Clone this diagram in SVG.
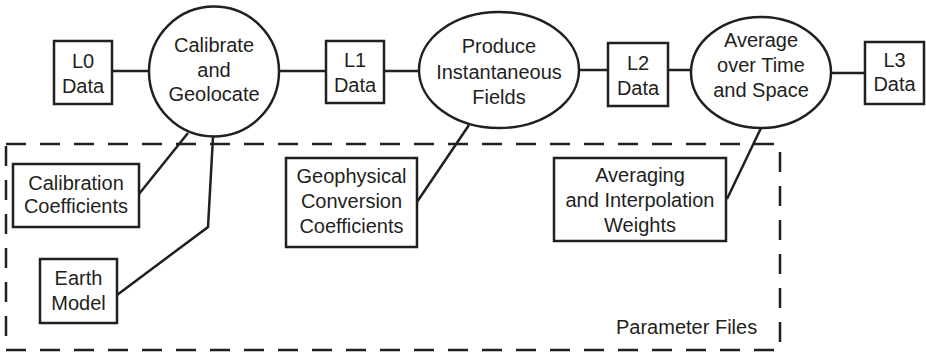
<svg xmlns="http://www.w3.org/2000/svg" width="926" height="353" viewBox="0 0 926 353">
  <style>
    .shape { fill: #ffffff; stroke: #231f20; stroke-width: 2.5; }
    .link { fill: none; stroke: #231f20; stroke-width: 2.5; stroke-linejoin: miter; }
    .frame { fill: none; stroke: #231f20; stroke-width: 2.5; stroke-dasharray: 20 14; }
    text { font-family: "Liberation Sans", Arial, sans-serif; font-size: 20px; fill: #231f20; text-anchor: middle; }
    .left { text-anchor: start; }
  </style>
  <rect width="926" height="353" fill="#ffffff"/>

  <!-- parameter files enclosure -->
  <g id="parameter-files">
    <rect class="frame" x="6" y="144" width="774" height="206"/>
    <text class="left" x="616" y="334">Parameter Files</text>
  </g>

  <!-- connectors -->
  <g id="connectors">
    <line class="link" x1="112" y1="71" x2="149" y2="71"/>
    <line class="link" x1="279" y1="71" x2="326" y2="71"/>
    <line class="link" x1="384" y1="71" x2="419" y2="71"/>
    <line class="link" x1="579" y1="70" x2="608" y2="70"/>
    <line class="link" x1="668" y1="70" x2="691" y2="70"/>
    <line class="link" x1="831" y1="73" x2="865" y2="73"/>
    <line class="link" x1="188" y1="133" x2="139" y2="194"/>
    <polyline class="link" points="213,137 208,227 117,295"/>
    <line class="link" x1="469" y1="125" x2="417" y2="202"/>
    <line class="link" x1="761" y1="128" x2="727" y2="199"/>
  </g>

  <g id="l0-data">
    <rect class="shape" x="54" y="41" width="58" height="63"/>
    <text x="83" y="68">L0</text>
    <text x="83" y="93">Data</text>
  </g>

  <g id="calibrate-geolocate">
    <circle class="shape" cx="214" cy="71.5" r="65"/>
    <text x="214" y="52">Calibrate</text>
    <text x="214" y="77">and</text>
    <text x="214" y="101">Geolocate</text>
  </g>

  <g id="l1-data">
    <rect class="shape" x="326" y="41" width="58" height="62"/>
    <text x="355" y="67">L1</text>
    <text x="355" y="92">Data</text>
  </g>

  <g id="produce-fields">
    <ellipse class="shape" cx="499" cy="70" rx="80" ry="58"/>
    <text x="499" y="53">Produce</text>
    <text x="499" y="79">Instantaneous</text>
    <text x="499" y="104">Fields</text>
  </g>

  <g id="l2-data">
    <rect class="shape" x="608" y="43" width="60" height="63"/>
    <text x="638" y="70">L2</text>
    <text x="638" y="95">Data</text>
  </g>

  <g id="average-time-space">
    <ellipse class="shape" cx="761" cy="72.5" rx="70" ry="55.5"/>
    <text x="761" y="47">Average</text>
    <text x="761" y="72">over Time</text>
    <text x="761" y="97">and Space</text>
  </g>

  <g id="l3-data">
    <rect class="shape" x="865" y="42" width="59" height="62"/>
    <text x="894.5" y="67">L3</text>
    <text x="894.5" y="91">Data</text>
  </g>

  <g id="calibration-coefficients">
    <rect class="shape" x="13" y="164" width="126" height="63"/>
    <text x="76" y="190">Calibration</text>
    <text x="76" y="213">Coefficients</text>
  </g>

  <g id="earth-model">
    <rect class="shape" x="40" y="259" width="77" height="64"/>
    <text x="78.5" y="285">Earth</text>
    <text x="78.5" y="310">Model</text>
  </g>

  <g id="geophysical-coefficients">
    <rect class="shape" x="286" y="158" width="131" height="89"/>
    <text x="351.5" y="183">Geophysical</text>
    <text x="351.5" y="208">Conversion</text>
    <text x="351.5" y="233">Coefficients</text>
  </g>

  <g id="averaging-weights">
    <rect class="shape" x="554" y="158" width="172" height="83"/>
    <text x="640" y="182">Averaging</text>
    <text x="640" y="207">and Interpolation</text>
    <text x="640" y="232">Weights</text>
  </g>
</svg>
